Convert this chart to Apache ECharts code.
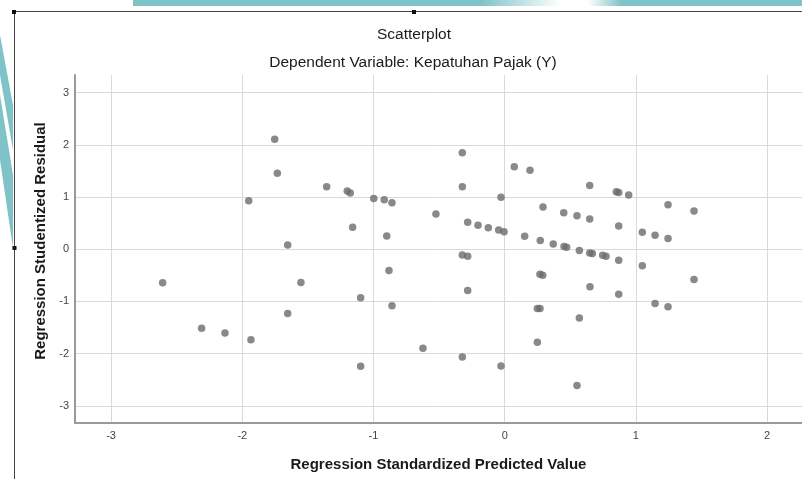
<!DOCTYPE html>
<html>
<head>
<meta charset="utf-8">
<script src="https://cdn.jsdelivr.net/npm/echarts@6/dist/echarts.min.js"></script>
<style>
  html, body { margin: 0; padding: 0; background: #ffffff; }
  #chart { width: 802px; height: 479px; }
</style>
</head>
<body>
<div id="chart"></div>
<script>
// Regression Standardized Predicted Value (x)
const predicted = [
  -1.753, -1.733, -1.951, -1.654, -0.323, 0.073, 0.193, -1.357, -0.323, -1.200,
  -1.177, -0.998, -0.918, -0.859, -0.028, 0.292, -0.524, -1.159, -0.282, -0.203,
  -0.125, -0.046, -0.005, 0.152, 0.271, 0.370, -0.899, -0.323, -0.282, 0.648,
  0.851, 0.869, 0.945, 1.245, 1.443, 0.450, 0.551, 0.648, 0.869, 1.049,
  1.146, 1.245, 0.452, 0.472, 0.569, 0.648, 0.668, 0.747, 0.772, 0.869,
  1.049, 1.443, 0.650, 0.869, 1.146, 1.245, 0.569, 0.551, 0.269, 0.290,
  0.249, 0.269, 0.249, -0.882, -0.282, -1.098, -0.859, -0.623, -0.323, -0.028,
  -1.098, -1.553, -2.607, -2.310, -2.132, -1.934, -1.654
];
// Regression Studentized Residual (y)
const residual = [
  2.108, 1.458, 0.930, 0.082, 1.848, 1.580, 1.516, 1.198, 1.198, 1.115,
  1.076, 0.975, 0.949, 0.892, 0.999, 0.809, 0.675, 0.420, 0.516, 0.459,
  0.414, 0.369, 0.338, 0.248, 0.166, 0.101, 0.255, -0.108, -0.134, 1.223,
  1.102, 1.089, 1.038, 0.854, 0.732, 0.701, 0.644, 0.580, 0.446, 0.325,
  0.268, 0.204, 0.051, 0.038, -0.025, -0.070, -0.083, -0.115, -0.134, -0.210,
  -0.318, -0.580, -0.720, -0.860, -1.038, -1.102, -1.319, -2.612, -0.478, -0.497,
  -1.134, -1.134, -1.784, -0.408, -0.790, -0.930, -1.083, -1.898, -2.064, -2.236,
  -2.242, -0.637, -0.643, -1.516, -1.605, -1.733, -1.229
];
const chartTitle = 'Scatterplot';
const chartSubtitle = 'Dependent Variable: Kepatuhan Pajak (Y)';
const xName = 'Regression Standardized Predicted Value';
const yName = 'Regression Studentized Residual';

const points = predicted.map((x, i) => [x, residual[i]]);

const chart = echarts.init(document.getElementById('chart'), null, { renderer: 'canvas' });
const gridGray = '#d9d9d9';
const teal = '#7fc3c8';
const option = {
  backgroundColor: '#ffffff',
  animation: false,
  grid: { left: 75, right: 0, top: 75, bottom: 56, containLabel: false },
  xAxis: {
    type: 'value',
    min: -3.275,
    max: 2.266,
    splitNumber: 5,
    name: xName,
    nameLocation: 'middle',
    nameGap: 34,
    nameTextStyle: { fontFamily: 'Liberation Sans, Arial', fontSize: 15, fontWeight: 'bold', color: '#1a1a1a' },
    axisLine: { show: true, onZero: false, lineStyle: { color: '#9a9a9a', width: 2 } },
    axisTick: { show: false },
    axisLabel: {
      showMinLabel: false, showMaxLabel: false,
      margin: 7,
      fontFamily: 'Liberation Sans, Arial', fontSize: 11, color: '#444444'
    },
    splitLine: { show: true, lineStyle: { color: ['transparent', gridGray, gridGray, gridGray, gridGray, gridGray, gridGray, 'transparent'], width: 1 } }
  },
  yAxis: {
    type: 'value',
    min: -3.33,
    max: 3.34,
    splitNumber: 5,
    axisLine: { show: true, onZero: false, lineStyle: { color: '#9a9a9a', width: 2 } },
    axisTick: { show: false },
    axisLabel: {
      showMinLabel: false, showMaxLabel: false,
      margin: 6,
      fontFamily: 'Liberation Sans, Arial', fontSize: 11, color: '#444444'
    },
    splitLine: { show: true, lineStyle: { color: ['transparent', gridGray, gridGray, gridGray, gridGray, gridGray, gridGray, gridGray, 'transparent'], width: 1 } }
  },
  series: [{
    type: 'scatter',
    data: points,
    symbol: 'circle',
    symbolSize: 7.5,
    itemStyle: { color: '#6b6b6b' },
    silent: true
  }],
  graphic: [
    // teal header band
    { type: 'rect', shape: { x: 133, y: 0, width: 669, height: 6 }, silent: true,
      style: { fill: new echarts.graphic.LinearGradient(0, 0, 1, 0, [
        { offset: 0, color: teal }, { offset: 0.52, color: teal },
        { offset: 0.64, color: '#ffffff' }, { offset: 0.68, color: '#ffffff' },
        { offset: 0.73, color: teal }, { offset: 1, color: teal }]) } },
    // left teal stripes
    { type: 'polygon', shape: { points: [[0, 35], [0, 75], [13, 150], [13, 105]] }, silent: true, style: { fill: teal } },
    { type: 'polygon', shape: { points: [[0, 95], [0, 160], [13, 248], [13, 175]] }, silent: true, style: { fill: teal } },
    // frame lines
    { type: 'line', shape: { x1: 14, y1: 11.5, x2: 802, y2: 11.5 }, silent: true, style: { stroke: '#444444', lineWidth: 1 } },
    { type: 'line', shape: { x1: 14.5, y1: 12, x2: 14.5, y2: 479 }, silent: true, style: { stroke: '#444444', lineWidth: 1 } },
    { type: 'rect', shape: { x: 12, y: 10, width: 4, height: 4 }, silent: true, style: { fill: '#111111' } },
    { type: 'rect', shape: { x: 412, y: 10, width: 4, height: 4 }, silent: true, style: { fill: '#111111' } },
    { type: 'rect', shape: { x: 12.5, y: 246, width: 4, height: 4 }, silent: true, style: { fill: '#111111' } },
    // titles
    { type: 'text', x: 414, y: 35, silent: true,
      style: { text: chartTitle, fill: '#1a1a1a', font: '15.5px "Liberation Sans", Arial', textAlign: 'center', textVerticalAlign: 'middle' } },
    { type: 'text', x: 413, y: 63, silent: true,
      style: { text: chartSubtitle, fill: '#1a1a1a', font: '15.5px "Liberation Sans", Arial', textAlign: 'center', textVerticalAlign: 'middle' } },
    // y axis name
    { type: 'text', x: 41, y: 241, rotation: Math.PI / 2, silent: true,
      style: { text: yName, fill: '#1a1a1a', font: 'bold 15px "Liberation Sans", Arial', textAlign: 'center', textVerticalAlign: 'middle' } }
  ]
};
chart.setOption(option);
</script>
</body>
</html>
